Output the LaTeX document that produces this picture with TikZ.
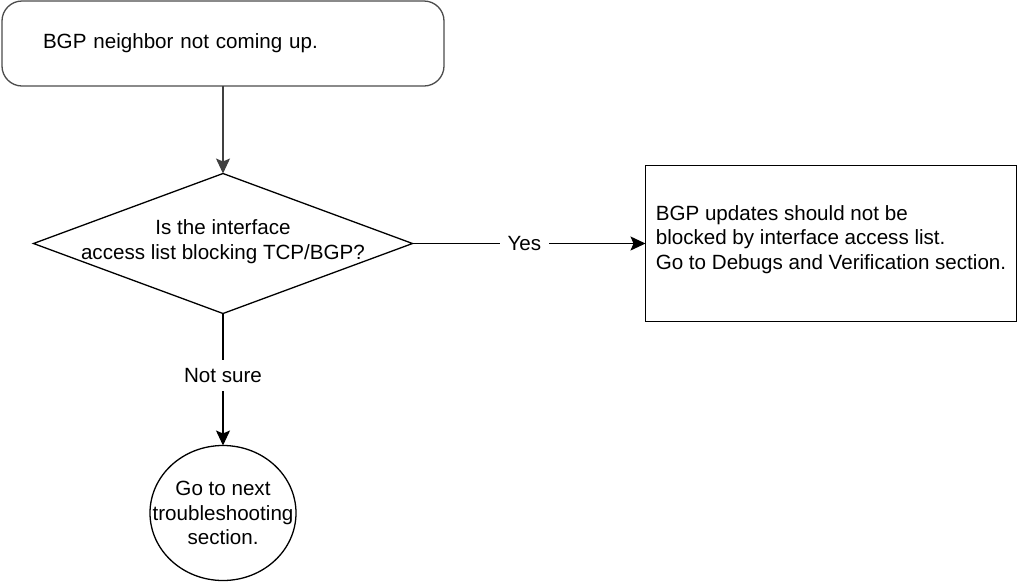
\documentclass[tikz,border=0pt]{standalone}
\usepackage{fontspec}
\setsansfont{Liberation Sans}
\usetikzlibrary{arrows.meta,positioning,shapes.geometric}

\begin{document}
\begin{tikzpicture}[
  x=1pt, y=-1pt,
  font=\sffamily\fontsize{20.6}{24.7}\selectfont,
  >={Stealth[length=15pt, width=14pt, inset=3pt]},
  every node/.style={line width=1.3pt, outer sep=0pt},
  start/.style={draw=black!70, rounded corners=20pt, align=left, text width=360pt, inner xsep=41pt, minimum height=85pt},
  decision/.style={draw, diamond, minimum width=379pt, minimum height=140pt, inner sep=0pt},
  outcome/.style={draw, align=left, minimum width=371pt, minimum height=156pt, text depth=12pt},
  terminal/.style={draw, ellipse, minimum width=146pt, minimum height=135pt, inner sep=0pt},
  shapetext/.style={align=center, inner sep=0pt},
  edgelabel/.style={fill=white, inner sep=8pt},
  arrow/.style={->, line width=1.3pt, draw=black}
]
\useasboundingbox (0,0) rectangle (1018,582);

\node[start] (start) at (223,43.5) {BGP neighbor not coming up.};
\node[decision, below=87.5pt of start] (check) {};
\node[shapetext, yshift=2pt] (checktext) at (check) {Is the interface\\access list blocking TCP/BGP?};
\node[outcome, right=233pt of check] (verify) {BGP updates should not be\\blocked by interface access list.\\Go to Debugs and Verification section.};
\node[terminal, below=132pt of check] (next) {};
\node[shapetext] (nexttext) at (next) {Go to next\\troubleshooting\\section.};

\draw[arrow, draw=black!75] (start) -- (check);
\draw[arrow] (check) -- node[edgelabel, pos=0.48] (yes) {Yes} (verify);
\draw[arrow] (check) -- node[edgelabel, pos=0.47] (notsure) {Not sure} (next);
\end{tikzpicture}
\end{document}
